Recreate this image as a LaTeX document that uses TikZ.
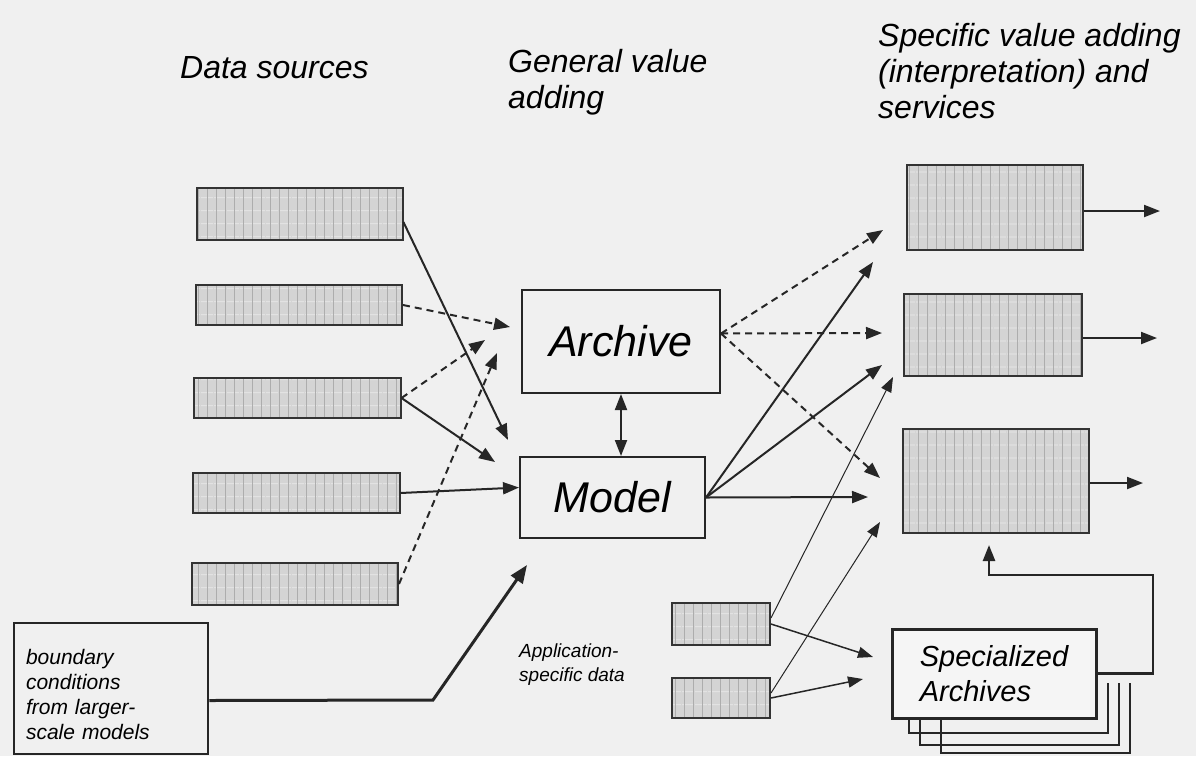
\documentclass[tikz,border=0pt]{standalone}
\usepackage{fontspec}
\setmainfont{Liberation Sans}
\usepackage{tikz}
\usetikzlibrary{arrows.meta, positioning, patterns.meta}
\tikzset{%
	every databox/.style={
		draw=black!80,
		line width=2pt,
		preaction={fill=black!17},
		preaction={pattern={Lines[angle=0,distance=13pt,line width=0.8pt]}, pattern color=black!8},
		pattern={Lines[angle=90,distance=9pt,line width=0.8pt]},
		pattern color=black!32,
		inner sep=0pt
	},
	valuebox/.style={
		draw=black!85,
		line width=2pt,
		inner sep=0pt,
		font=\fontsize{43}{48}\selectfont\itshape
	},
	heading/.style={
		anchor=north west,
		inner sep=0pt,
		align=left,
		font=\fontsize{32}{36}\selectfont\itshape
	},
	flow/.style={
		draw=black!85,
		line width=2pt,
		-{Triangle[length=16pt,width=12pt]}
	},
	flow dashed/.style={
		flow,
		dash pattern=on 7pt off 5pt
	},
	flow thin/.style={
		draw=black!85,
		line width=1pt,
		-{Triangle[length=15pt,width=11pt]}
	},
}

\begin{document}
\begin{tikzpicture}[x=1pt, y=-1pt]
			% background and size
			\fill[black!6] (0,0) rectangle (1196,756);
			\useasboundingbox (0,0) rectangle (1196,756);
			
			% headings
			\node[heading] (hdata) at (180,56) {Data sources};
			\node[heading] (hgeneral) at (508,49) {General value\\adding};
			\node[heading] (hspecific) at (878,23) {Specific value adding\\(interpretation) and\\services};
			
			% data sources
			\node[every databox, minimum width=206pt, minimum height=52pt] (ds1) at (300,214) {};
			\node[every databox, minimum width=206pt, minimum height=40pt] (ds2) at (299,305) {};
			\node[every databox, minimum width=207pt, minimum height=40pt] (ds3) at (297,398) {};
			\node[every databox, minimum width=207pt, minimum height=40pt] (ds4) at (296,493) {};
			\node[every databox, minimum width=206pt, minimum height=42pt] (ds5) at (295,584) {};
			
			% boundary conditions
			\node[draw=black!85, line width=2.5pt, minimum width=194pt, minimum height=131pt,
				inner sep=10pt, text width=170pt, align=left,
				font=\fontsize{21}{25}\selectfont\itshape] (bound) at (111,688.5)
				{\rule{0pt}{28pt}boundary\\conditions\\from larger-\\scale models};
			
			% general value adding
			\node[valuebox, minimum width=198pt, minimum height=103pt] (archive) at (621,341.5) {Archive};
			\node[valuebox, minimum width=185pt, minimum height=81pt] (model) at (612.5,497.5) {Model};
			
			% application specific data
			\node[every databox, minimum width=98pt, minimum height=42pt] (app1) at (721,624) {};
			\node[every databox, minimum width=98pt, minimum height=40pt] (app2) at (721,698) {};
			\node[anchor=west, inner sep=0pt, align=left,
				font=\fontsize{19}{24}\selectfont\itshape] (applabel) at (519,665)
				{Application-\\specific data};
			
			% specific value adding
			\node[every databox, minimum width=176pt, minimum height=85pt] (res1) at (995,207.5) {};
			\node[every databox, minimum width=178pt, minimum height=82pt] (res2) at (993,335) {};
			\node[every databox, minimum width=186pt, minimum height=104pt] (res3) at (996,481) {};
			
			% stacked specialized archives
			\draw[black!85, line width=1.8pt] (909,718) |- (1108,733) -- (1108,683);
			\draw[black!85, line width=1.8pt] (920,718) |- (1119,745) -- (1119,683);
			\draw[black!85, line width=1.8pt] (941,718) |- (1130,753) -- (1130,683);
			\node[draw=black!85, line width=3pt, fill=black!4, minimum width=204pt, minimum height=89pt,
				align=left, font=\fontsize{29}{35}\selectfont\itshape] (spec) at (994,673.5)
				{Specialized\\Archives};
			
			% free arrow ends
			\coordinate (tD1) at (508,440);
			\coordinate (tD2) at (510,327);
			\coordinate (tD3a) at (485,340);
			\coordinate (tD3b) at (495,462);
			\coordinate (tD5) at (497,353);
			\coordinate (tA1) at (883,230);
			\coordinate (tA2) at (882,333);
			\coordinate (tA3) at (880,478);
			\coordinate (tM1) at (873,262);
			\coordinate (tM2) at (882,365);
			\coordinate (tM3) at (868,497);
			\coordinate (tS1) at (893,377);
			\coordinate (tS2) at (880,522);
			\coordinate (tP1) at (873,657);
			\coordinate (tP2) at (863,679);
			\coordinate (tB) at (527,565);
			\coordinate (bend) at (433,700);
			\coordinate (tO1) at (1160,211);
			\coordinate (tO2) at (1157,338);
			\coordinate (tO3) at (1143,483);
			\coordinate (tF) at (989,545);
			\coordinate (fcorner) at (1153,575);
			
			% data sources to archive and model
			\draw[flow] ([yshift=-8pt]ds1.east) -- (tD1);
			\draw[flow dashed] (ds2.east) -- (tD2);
			\draw[flow dashed] (ds3.east) -- (tD3a);
			\draw[flow] (ds3.east) -- (tD3b);
			\draw[flow] (ds4.east) -- ([yshift=10pt]model.west);
			\draw[flow dashed] (ds5.east) -- (tD5);
			\draw[draw=black!85, line width=3pt, -{Triangle[length=18pt,width=14pt]}] ([yshift=-12pt]bound.east) -- (bend) -- (tB);
			
			% archive <-> model
			\draw[flow, {Triangle[length=16pt,width=12pt]}-{Triangle[length=16pt,width=12pt]}] (archive.south) -- (archive.south |- model.north);
			
			% archive and model to services
			\draw[flow dashed] ([yshift=8pt]archive.east) -- (tA1);
			\draw[flow dashed] ([yshift=8pt]archive.east) -- (tA2);
			\draw[flow dashed] ([yshift=8pt]archive.east) -- (tA3);
			\draw[flow] (model.east) -- (tM1);
			\draw[flow] (model.east) -- (tM2);
			\draw[flow] (model.east) -- (tM3);
			
			% application data
			\draw[flow thin] ([yshift=6pt]app1.east) -- (tS1);
			\draw[flow thin] ([yshift=5pt]app2.east) -- (tS2);
			\draw[flow thin, line width=1.5pt] (app1.east) -- (tP1);
			\draw[flow thin, line width=1.5pt] (app2.east) -- (tP2);
			
			% outputs
			\draw[flow] (tO1 -| res1.east) -- (tO1);
			\draw[flow] (tO2 -| res2.east) -- (tO2);
			\draw[flow] (tO3 -| res3.east) -- (tO3);
			
			% feedback from specialized archives
			\draw[flow, line width=2.5pt] (spec.east) -| (fcorner) -| (tF);
		\end{tikzpicture}
\end{document}
